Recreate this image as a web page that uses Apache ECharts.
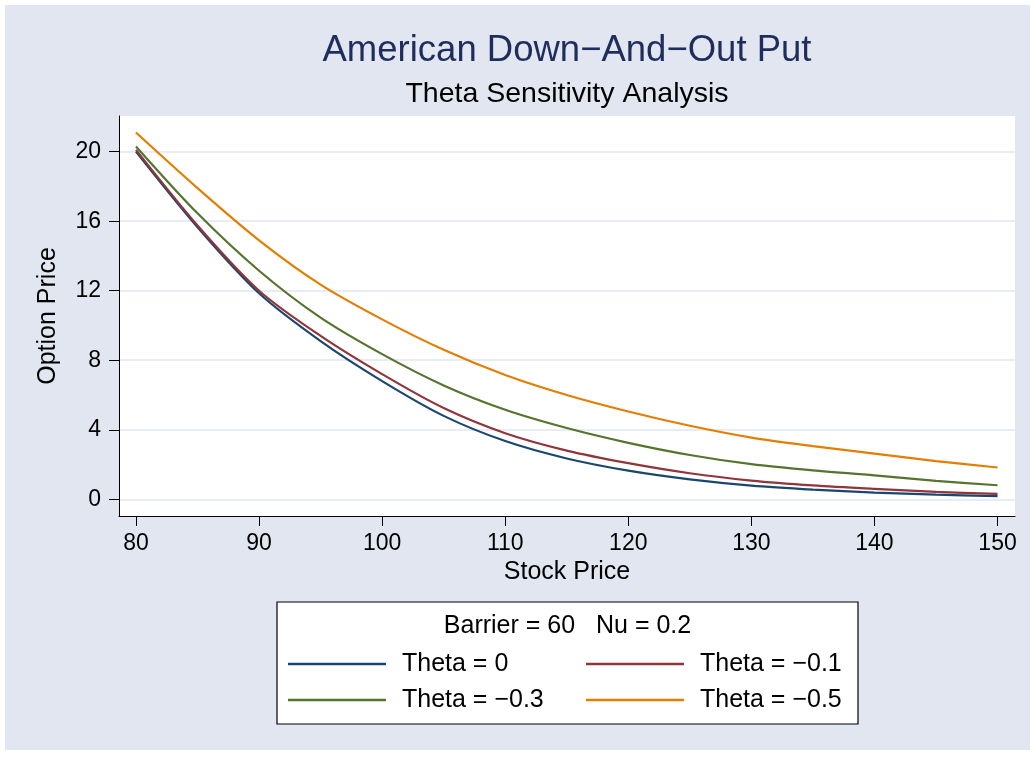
<!DOCTYPE html>
<html>
<head>
<meta charset="utf-8">
<script src="https://cdn.jsdelivr.net/npm/echarts@6/dist/echarts.min.js"></script>
<style>
  html, body { margin: 0; padding: 0; background: #fff; }
  #chart { position: absolute; left: 5px; top: 5px; width: 1025px; height: 745px; }
</style>
</head>
<body>
<div id="chart"></div>
<script>
// 数据：股票价格 与 不同 Theta 下的期权价格
const stockPrice = [80, 85, 90, 95, 100, 105, 110, 115, 120, 125, 130, 135, 140, 145, 150];
const theta0 = [20.0, 15.65, 11.85, 9.1, 6.8, 4.8, 3.35, 2.35, 1.65, 1.15, 0.79, 0.56, 0.39, 0.27, 0.18];
const thetaM01 = [20.1, 15.75, 12.0, 9.4, 7.2, 5.25, 3.8, 2.8, 2.08, 1.5, 1.08, 0.8, 0.6, 0.43, 0.31];
const thetaM03 = [20.3, 16.45, 13.15, 10.45, 8.35, 6.55, 5.15, 4.1, 3.25, 2.55, 2.02, 1.66, 1.38, 1.06, 0.81];
const thetaM05 = [21.1, 17.9, 14.9, 12.35, 10.35, 8.6, 7.15, 6.0, 5.05, 4.23, 3.55, 3.06, 2.63, 2.2, 1.83];

const seriesNames = ['Theta = 0', 'Theta = −0.1', 'Theta = −0.3', 'Theta = −0.5'];
const seriesColors = ['#1a476f', '#90353b', '#55752f', '#e37e00'];
const xTicks = [80, 90, 100, 110, 120, 130, 140, 150];
const yTicks = [0, 4, 8, 12, 16, 20];

const fontName = '"Liberation Sans", Arial, sans-serif';
const myChart = echarts.init(document.getElementById('chart'));

// 把 x 与 y 组合成点
function toPoints(values) {
  return stockPrice.map((x, i) => [x, values[i]]);
}

const allValues = [theta0, thetaM01, thetaM03, thetaM05];

var option = {
  backgroundColor: '#e1e6f0',
  animation: false,
  textStyle: { fontFamily: fontName },
  grid: {
    left: 114,
    right: 15,
    top: 111,
    bottom: 234,
    show: true,
    backgroundColor: '#ffffff',
    borderWidth: 0
  },
  graphic: [
    { // 标题
      type: 'text', x: 562, y: 46,
      style: { text: 'American Down−And−Out Put', fill: '#1f2d5c', font: '36.5px ' + fontName, textAlign: 'center', textVerticalAlign: 'middle' }
    },
    { // 副标题
      type: 'text', x: 562, y: 89,
      style: { text: 'Theta Sensitivity Analysis', fill: '#000', font: '28.5px ' + fontName, textAlign: 'center', textVerticalAlign: 'middle' }
    },
    { // 图例外框
      type: 'rect', z: 0,
      shape: { x: 272, y: 597, width: 581, height: 122 },
      style: { fill: '#ffffff', stroke: '#000', lineWidth: 1.2 }
    },
    { // 图例标题
      type: 'text', x: 562.5, y: 621.5, z: 1,
      style: { text: 'Barrier = 60   Nu = 0.2', fill: '#000', font: '25px ' + fontName, textAlign: 'center', textVerticalAlign: 'middle' }
    }
  ],
  legend: [
    {
      orient: 'vertical', left: 283, top: 646.5, padding: 0, itemGap: 11,
      icon: 'rect', itemWidth: 98, itemHeight: 2.5,
      data: [seriesNames[0], seriesNames[2]],
      textStyle: { fontSize: 25, color: '#000', fontFamily: fontName, padding: [0, 0, 0, 11] }
    },
    {
      orient: 'vertical', left: 581, top: 646.5, padding: 0, itemGap: 11,
      icon: 'rect', itemWidth: 98, itemHeight: 2.5,
      data: [seriesNames[1], seriesNames[3]],
      textStyle: { fontSize: 25, color: '#000', fontFamily: fontName, padding: [0, 0, 0, 11] }
    }
  ],
  xAxis: {
    type: 'value',
    min: 78.62,
    max: 151.42,
    name: 'Stock Price',
    nameLocation: 'middle',
    nameGap: 44,
    nameTextStyle: { fontSize: 25, color: '#000', fontFamily: fontName },
    axisLine: { onZero: false, lineStyle: { color: '#000', width: 1 } },
    axisTick: { show: true, length: 10, customValues: xTicks, lineStyle: { color: '#000' } },
    axisLabel: { customValues: xTicks, fontSize: 23, color: '#000', margin: 16, fontFamily: fontName },
    splitLine: { show: false }
  },
  yAxis: {
    type: 'value',
    min: -0.96,
    max: 22.05,
    name: 'Option Price',
    nameLocation: 'middle',
    nameGap: 58,
    nameTextStyle: { fontSize: 25, color: '#000', fontFamily: fontName },
    axisLine: { show: true, lineStyle: { color: '#000', width: 1 } },
    axisTick: { show: true, length: 10, customValues: yTicks, lineStyle: { color: '#000' } },
    axisLabel: { customValues: yTicks, fontSize: 23, color: '#000', margin: 18, fontFamily: fontName },
    splitLine: { show: true, lineStyle: { color: '#e1e6f0', width: 1.6 } }
  },
  series: seriesNames.map((name, i) => ({
    name: name,
    type: 'line',
    data: toPoints(allValues[i]),
    symbol: 'none',
    smooth: 0.3,
    color: seriesColors[i],
    lineStyle: { color: seriesColors[i], width: 2.2 },
    z: 2 + i
  }))
};

myChart.setOption(option);
</script>
</body>
</html>
